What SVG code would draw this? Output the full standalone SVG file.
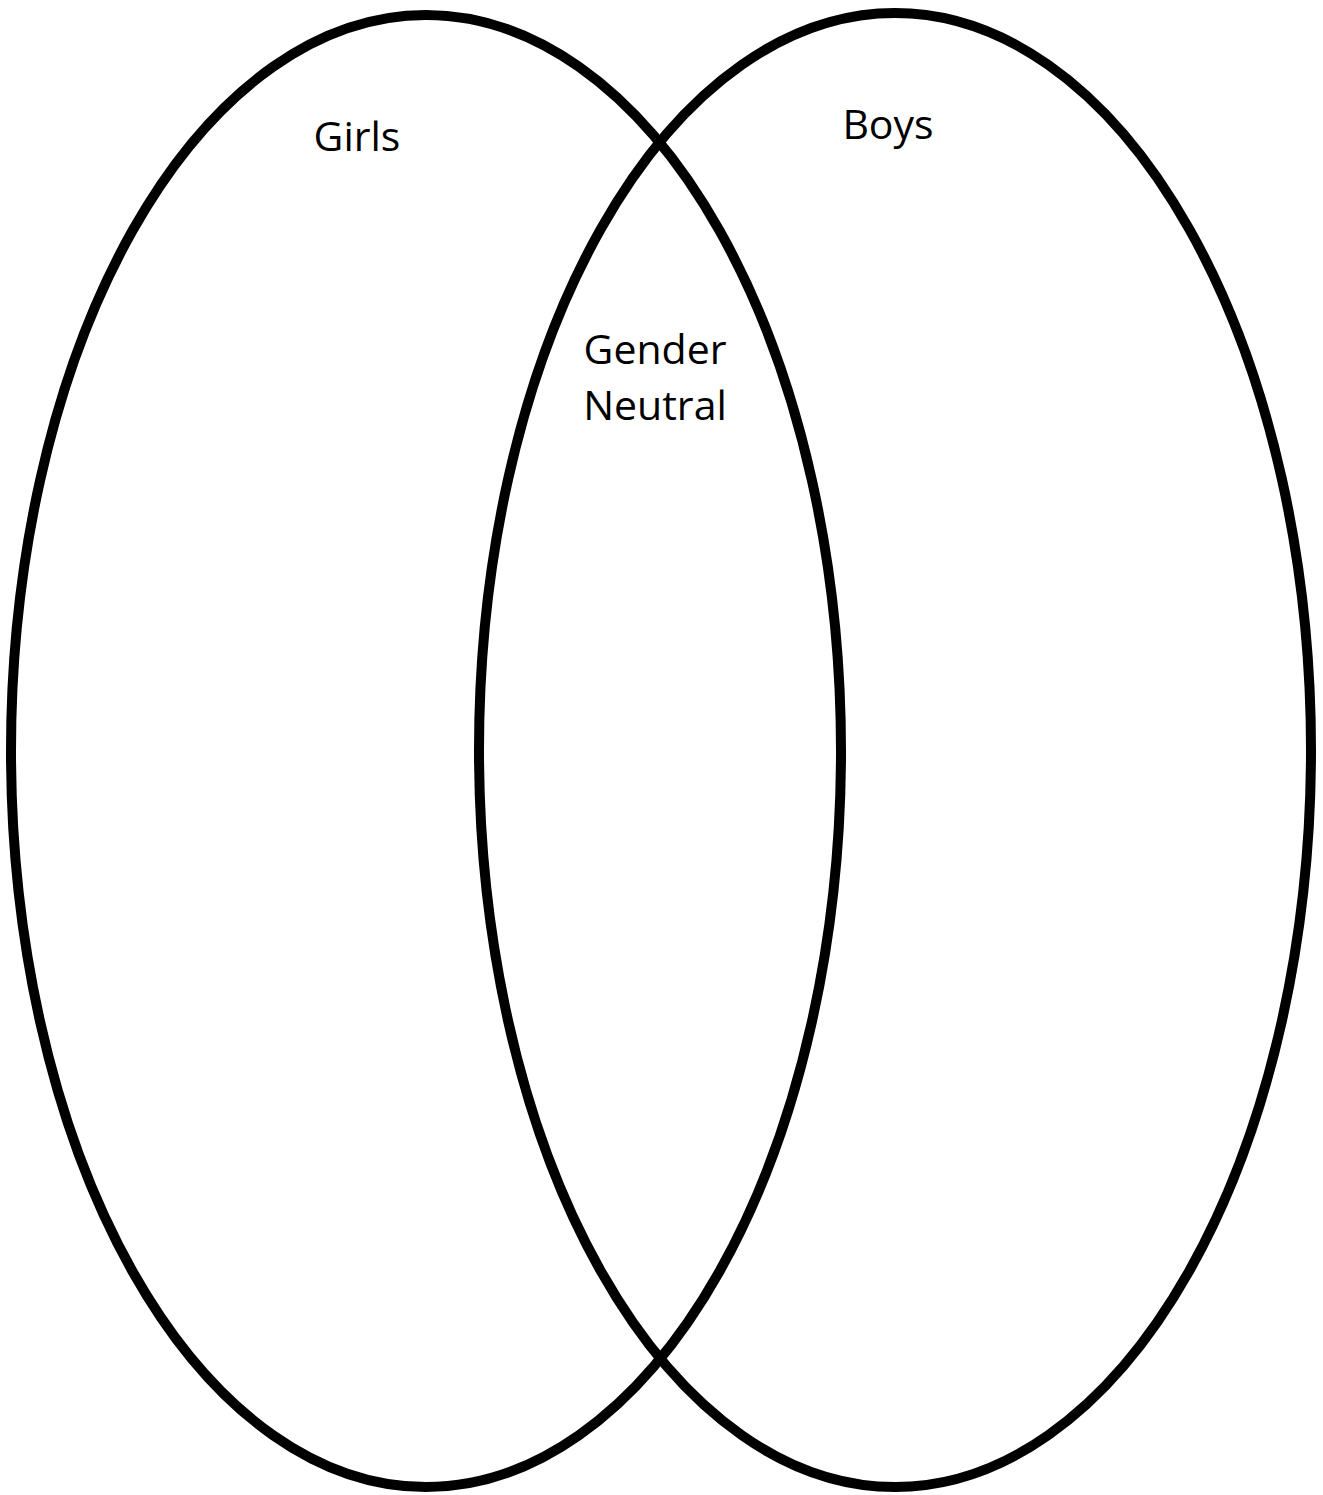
<svg xmlns="http://www.w3.org/2000/svg" width="1323" height="1495" viewBox="0 0 1323 1495">
<style>
.set{fill:none;stroke:#000;stroke-width:10}
.lbl{font-family:"Open Sans","Liberation Sans",sans-serif;font-size:41px;fill:#000}
</style>
<rect width="1323" height="1495" fill="#fff"/>
<g id="girls">
<ellipse class="set" cx="426" cy="751" rx="415" ry="736"/>
<text class="lbl" x="357" y="151" text-anchor="middle">Girls</text>
</g>
<g id="boys">
<ellipse class="set" cx="895" cy="750" rx="416" ry="737"/>
<text class="lbl" x="888" y="139" text-anchor="middle">Boys</text>
</g>
<g id="neutral">
<text class="lbl" x="655" y="364" text-anchor="middle">Gender</text>
<text class="lbl" x="655" y="420" text-anchor="middle">Neutral</text>
</g>
<g id="connectors"/>
</svg>
